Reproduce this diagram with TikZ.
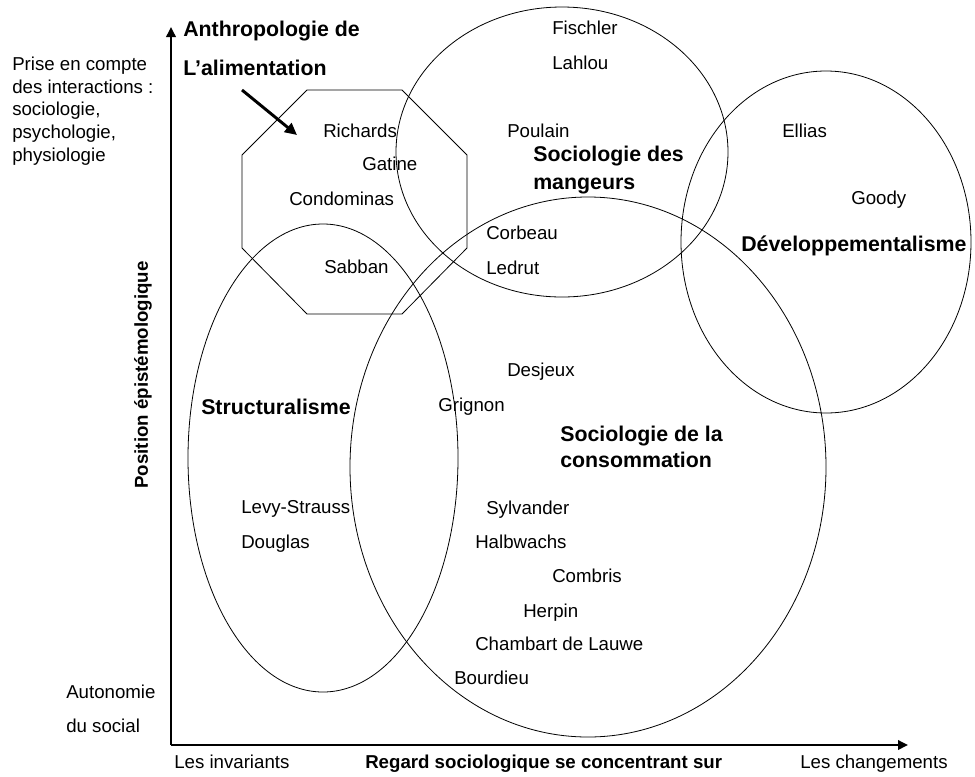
\documentclass[tikz,border=0pt]{standalone}
\usepackage{fontspec}
\setmainfont{Liberation Sans}
\usetikzlibrary{arrows.meta}
\begin{document}
\begin{tikzpicture}[x=0.75pt,y=-0.75pt,
  nm/.style={font=\fontsize{14}{16}\selectfont, inner sep=0pt, text height=10pt, text depth=0pt, anchor=west},
  grp/.style={font=\fontsize{16}{18}\selectfont\bfseries, inner sep=0pt, text height=11.5pt, text depth=0pt, anchor=west},
  thinline/.style={line width=0.6pt},
  axis/.style={line width=1.8pt, -{Triangle[length=7.5pt,width=7pt]}},
  pointer/.style={line width=2.2pt, -{Triangle[length=9pt,width=8.5pt]}}]
\useasboundingbox (0,0) rectangle (975,776);
% axes
\coordinate (O) at (171,745);
\coordinate (ytop) at (171,27);
\coordinate (xend) at (908,745);
\draw[axis] (O) -- (ytop);
\draw[axis] (O) -- (xend);
% octagon
\draw[thinline] (307,90) -- (402,90) -- (467,155) -- (467,248) -- (402,314) -- (307,314) -- (242,248) -- (242,155) -- cycle;
% ellipses
\draw[thinline] (562,152) ellipse [x radius=166, y radius=145];
\draw[thinline] (826,242) ellipse [x radius=145, y radius=171];
\draw[thinline] (323,458) ellipse [x radius=135, y radius=234];
\draw[thinline] (588,467) ellipse [x radius=238, y radius=270];
% pointer arrow
\coordinate (pa) at (242,90);
\coordinate (pb) at (297,135);
\draw[pointer] (pa) -- (pb);
% left texts
\node[nm] (t1) at (12,64) {Prise en compte};
\node[nm] (t2) at (12,87) {des interactions :};
\node[nm] (t3) at (12,109) {sociologie,};
\node[nm] (t4) at (12,132) {psychologie,};
\node[nm] (t5) at (12,155) {physiologie};
\node[nm] (au1) at (66,692) {Autonomie};
\node[nm] (au2) at (66,726) {du social};
\node[nm] (inv) at (174,762) {Les invariants};
\node[nm] (chg) at (800,762) {Les changements};
\node[font=\fontsize{14}{16}\selectfont\bfseries, inner sep=0pt, text height=10pt, text depth=0pt, anchor=west] (reg) at (365,762) {Regard sociologique se concentrant sur};
\node[font=\fontsize{14}{16}\selectfont\bfseries, inner sep=0pt, rotate=90] (pos) at (143,375) {Position épistémologique};
% group labels
\node[grp] (g1) at (183,29) {Anthropologie de};
\node[grp] (g2) at (183,68) {L’alimentation};
\node[grp] (g3) at (533,154) {Sociologie des};
\node[grp] (g4) at (533,182) {mangeurs};
\node[grp] (g5) at (741,244) {Développementalisme};
\node[grp] (g6) at (201,407) {Structuralisme};
\node[grp] (g7) at (560,434) {Sociologie de la};
\node[grp] (g8) at (560,460) {consommation};
% names
\node[nm] (n1) at (552,28) {Fischler};
\node[nm] (n2) at (552,63) {Lahlou};
\node[nm] (n3) at (323,131) {Richards};
\node[nm] (n4) at (507,131) {Poulain};
\node[nm] (n5) at (362,164) {Gatine};
\node[nm] (n6) at (289,199) {Condominas};
\node[nm] (n7) at (486,233) {Corbeau};
\node[nm] (n8) at (324,267) {Sabban};
\node[nm] (n9) at (486,268) {Ledrut};
\node[nm] (n10) at (782,131) {Ellias};
\node[nm] (n11) at (851,198) {Goody};
\node[nm] (n12) at (507,370) {Desjeux};
\node[nm] (n13) at (438,405) {Grignon};
\node[nm] (n14) at (241,507) {Levy-Strauss};
\node[nm] (n15) at (241,542) {Douglas};
\node[nm] (n16) at (486,508) {Sylvander};
\node[nm] (n17) at (475,542) {Halbwachs};
\node[nm] (n18) at (552,576) {Combris};
\node[nm] (n19) at (523,611) {Herpin};
\node[nm] (n20) at (475,644) {Chambart de Lauwe};
\node[nm] (n21) at (454,678) {Bourdieu};
\end{tikzpicture}
\end{document}
